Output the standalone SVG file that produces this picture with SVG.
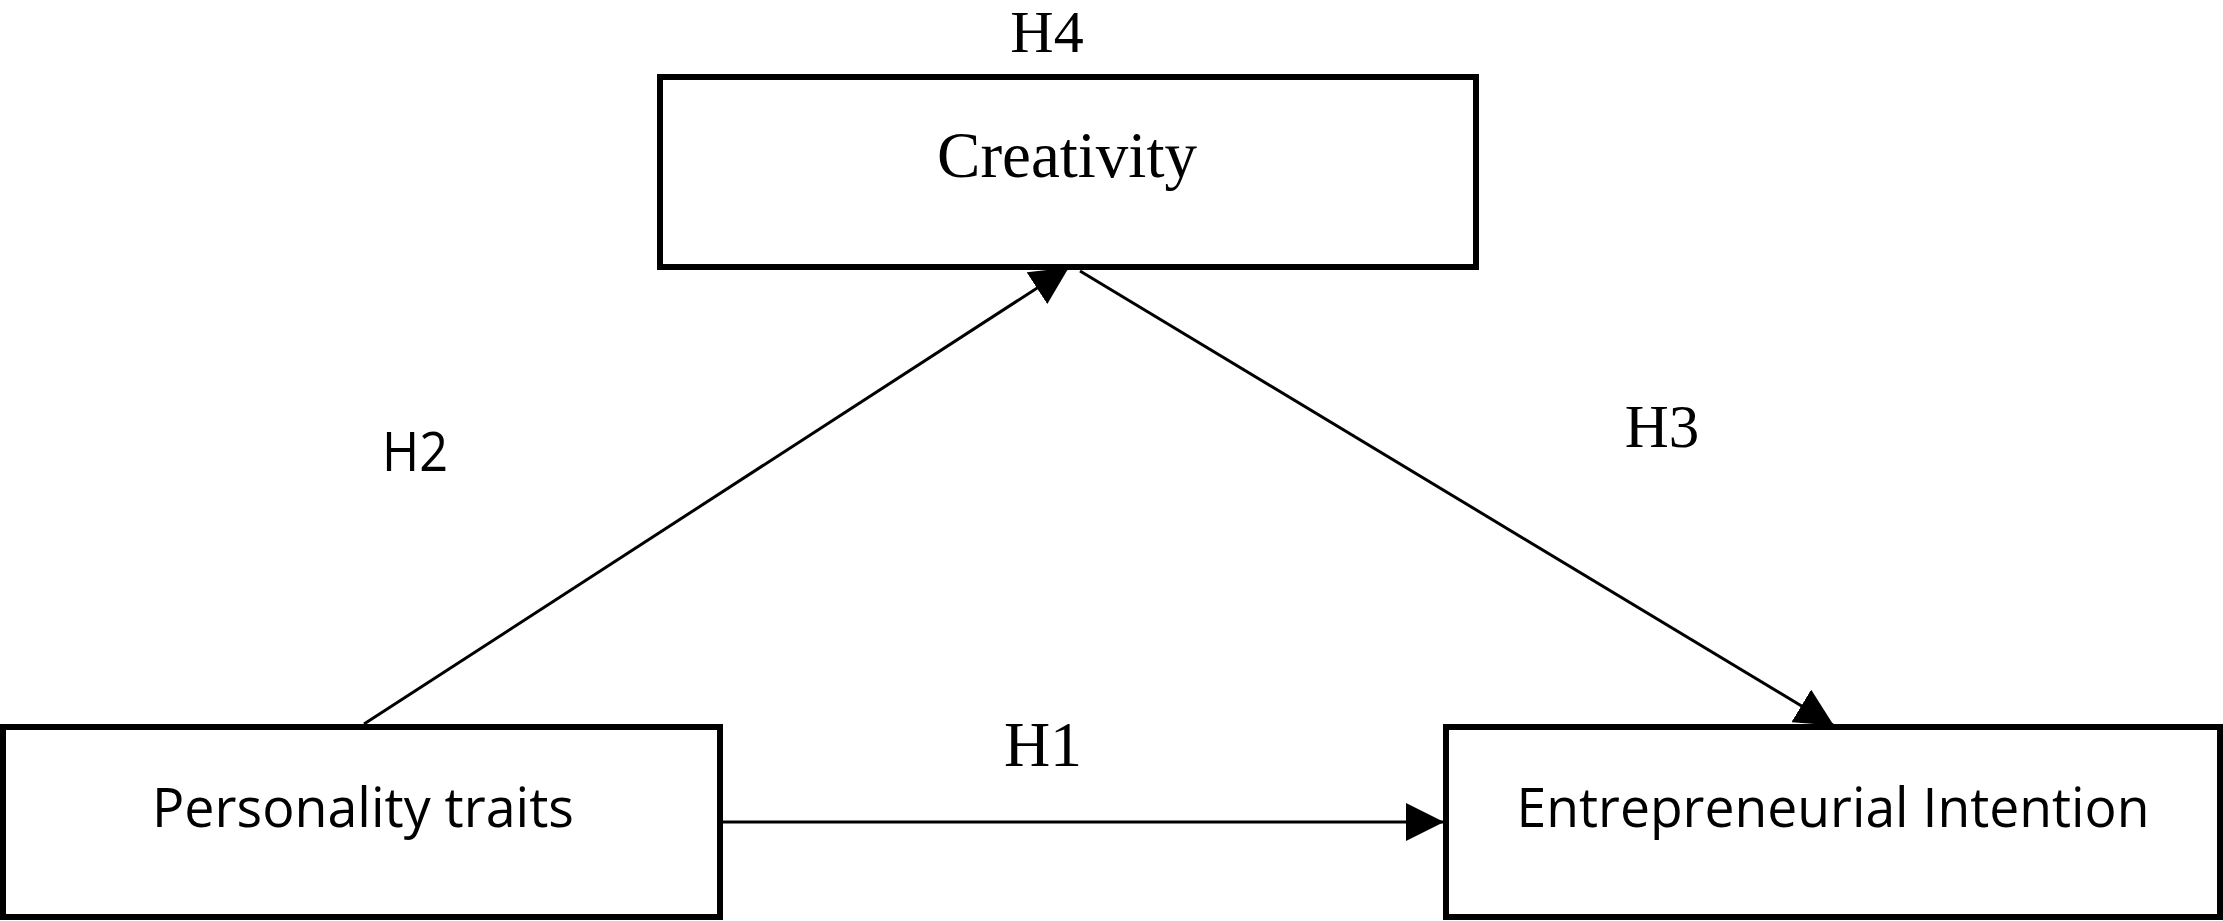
<svg xmlns="http://www.w3.org/2000/svg" width="2223" height="921" viewBox="0 0 2223 921">
<style>
.box{fill:#fff;stroke:#000;stroke-width:6}
.conn{fill:none;stroke:#000;stroke-width:3}
.serif{font-family:"Liberation Serif","Times New Roman",serif;fill:#000}
.sans{font-family:"Open Sans","Noto Sans","Liberation Sans",sans-serif;fill:#000}
</style>
<defs>
<marker id="arrow" markerUnits="userSpaceOnUse" markerWidth="38" markerHeight="38" refX="37" refY="19" orient="auto">
<path d="M0,0 L38,19 L0,38 Z" fill="#000"/>
</marker>
</defs>
<rect width="2223" height="921" fill="#fff"/>
<g id="connectors">
<line class="conn" x1="723" y1="822" x2="1443" y2="822" marker-end="url(#arrow)"/>
<line class="conn" x1="364" y1="724" x2="1068" y2="268" marker-end="url(#arrow)"/>
<line class="conn" x1="1080" y1="271" x2="1833" y2="725" marker-end="url(#arrow)"/>
</g>
<g id="node-creativity">
<rect class="box" x="660" y="77" width="816" height="190"/>
<text class="serif" x="1067" y="177" font-size="65" text-anchor="middle">Creativity</text>
</g>
<g id="node-personality">
<rect class="box" x="3" y="727" width="717" height="190"/>
<text class="sans" x="363" y="827" font-size="55" text-anchor="middle" textLength="422" lengthAdjust="spacingAndGlyphs">Personality traits</text>
</g>
<g id="node-intention">
<rect class="box" x="1446" y="727" width="774" height="190"/>
<text class="sans" x="1833" y="827" font-size="55" text-anchor="middle" textLength="633" lengthAdjust="spacingAndGlyphs">Entrepreneurial Intention</text>
</g>
<g id="labels">
<text class="serif" x="1047" y="52" font-size="60" text-anchor="middle">H4</text>
<text class="sans" x="415" y="471" font-size="55" text-anchor="middle" textLength="66" lengthAdjust="spacingAndGlyphs">H2</text>
<text class="serif" x="1662" y="447" font-size="61" text-anchor="middle">H3</text>
<text class="serif" x="1043" y="766" font-size="64" text-anchor="middle">H1</text>
</g>
</svg>
